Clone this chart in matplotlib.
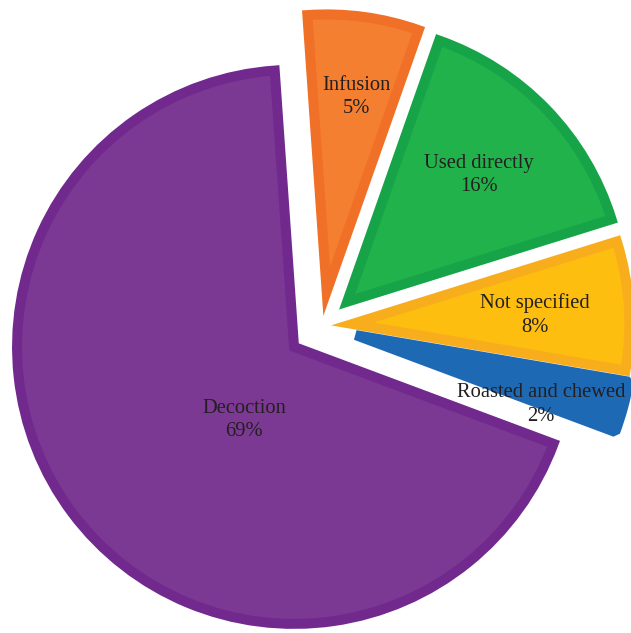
import matplotlib
matplotlib.use('Agg')
import matplotlib.pyplot as plt
import numpy as np

# preparation methods and their shares (wedge sizes as drawn in the figure)
methods = ['Infusion', 'Used directly', 'Not specified', 'Roasted and chewed', 'Decoction']
shares = [6.5, 14.8, 7.5, 3.0, 68.2]
pct_text = ['5%', '16%', '8%', '2%', '69%']

fill_colors = ['#f47f30', '#21b24b', '#fdbe10', '#1e69b4', '#7b3993']
edge_colors = ['#ef7026', '#17a449', '#f8ad1c', '#1e69b4', '#71298e']

# label placement relative to each wedge: radius and angle tweak (deg)
label_r = [0.71, 0.66, 0.66, 0.715, 0.32]
label_shift = [-1, 0, -1, -5.5, 19]

fig = plt.figure(figsize=(6.31, 6.33), dpi=100)
ax = fig.add_axes([0, 0, 1, 1])

wedges, _ = ax.pie(shares, colors=fill_colors, startangle=94, counterclock=False,
                   explode=[0.126, 0.126, 0.11, 0.126, 0.126], radius=1,
                   wedgeprops={'linewidth': 7.2, 'joinstyle': 'miter'})

for w, ec in zip(wedges, edge_colors):
    w.set_edgecolor(ec)
# the thin roasted wedge has a blunt tip
wedges[3].set_joinstyle('bevel')

for i, w in enumerate(wedges):
    theta = np.deg2rad((w.theta1 + w.theta2) / 2 + label_shift[i])
    cx, cy = w.center
    ax.text(cx + label_r[i] * np.cos(theta), cy + label_r[i] * np.sin(theta),
            methods[i] + '\n' + pct_text[i], ha='center', va='center',
            family=['Liberation Serif', 'DejaVu Serif'], fontsize=14.8,
            color='#231f20', linespacing=1.32)

ax.set_xlim(-322 / 277, (631 - 322) / 277)
ax.set_ylim(-(633 - 326) / 277, 326 / 277)
ax.set_aspect('auto')
ax.axis('off')

fig.savefig('out.png', dpi=100)
